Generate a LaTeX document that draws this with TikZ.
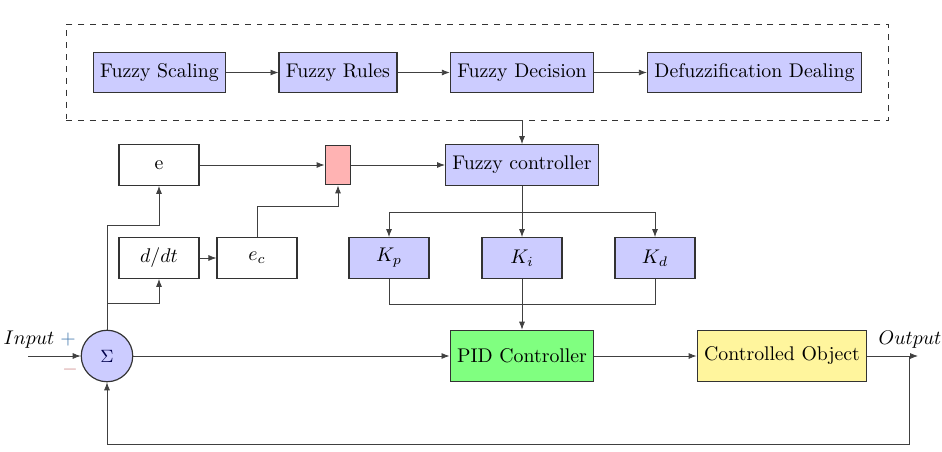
\documentclass[tikz,border=0pt]{standalone}
\usepackage{tikz}
\definecolor{FlouBleu}{HTML}{CCCCFF}
\definecolor{ErreurRose}{HTML}{FFB3B3}
\definecolor{PidVert}{HTML}{80FF80}
\definecolor{ObjetJaune}{HTML}{FFF59D}
\definecolor{PlusBleu}{HTML}{4A7DB0}
\definecolor{MoinsRouge}{HTML}{D09090}
\usetikzlibrary{calc,positioning,fit,arrows.meta}

\begin{document}
\begin{tikzpicture}[x=0.505pt, y=-0.505pt, >={Latex[length=4pt,width=3pt]},
        every node/.style={align=center},
        bloc/.style={draw=black!80, semithick, minimum height=20.5pt, inner xsep=3.5pt},
        blocflou/.style={bloc, fill=FlouBleu},
        petitbloc/.style={bloc, minimum width=40.4pt},
        fil/.style={->, draw=black!75}]
        \useasboundingbox (0,0) rectangle (942,452);

        % Chaine floue dans le cadre pointille
        \node[blocflou] (echelle) at (159.5,72.5) {Fuzzy Scaling};
        \node[blocflou] (regles) at (338,72.5) {Fuzzy Rules};
        \node[blocflou] (decision) at (522,72.5) {Fuzzy Decision};
        \node[blocflou] (defuzz) at (754.5,72.5) {Defuzzification Dealing};
        \node[draw=black!80, dashed, fit=(echelle)(defuzz), inner sep=13.5pt] (cadre) {};
        \draw[fil] (echelle) -- (regles);
        \draw[fil] (regles) -- (decision);
        \draw[fil] (decision) -- (defuzz);

        % Erreur, derivee et controleur flou
        \node[petitbloc] (e) at (159,165) {e};
        \node[petitbloc] (ddt) at (159,258) {$d/dt$};
        \node[petitbloc] (ec) at (257,258) {$e_c$};
        \node[bloc, fill=ErreurRose, minimum width=13pt, minimum height=20pt, inner sep=0pt] (rose) at (338,165) {};
        \node[blocflou] (ctrl) at (522,165) {Fuzzy controller};

        % Gains du PID
        \node[petitbloc, fill=FlouBleu] (kp) at (389,258) {$K_p$};
        \node[petitbloc, fill=FlouBleu] (ki) at (522,258) {$K_i$};
        \node[petitbloc, fill=FlouBleu] (kd) at (655,258) {$K_d$};

        % Boucle principale
        \node[draw=black!80, semithick, circle, fill=FlouBleu, minimum size=26pt, inner sep=0pt, font=\small, text=blue!30!black] (somme) at (107,356) {$\Sigma$};
        \node[bloc, fill=PidVert, minimum height=26pt] (pid) at (522,356) {PID Controller};
        \node[bloc, fill=ObjetJaune, minimum height=26pt] (objet) at (782,356) {Controlled Object};
        \coordinate (entree) at (28,356);
        \coordinate (sortie) at (918,356);
        \coordinate (retour) at (909,356);

        % Etiquettes
        \node (lblentree) at (29,340) {$Input$};
        \node[text=PlusBleu] (plus) at (68,340) {$+$};
        \node[text=MoinsRouge] (moins) at (70,370) {$-$};
        \node (lblsortie) at (910,340) {$Output$};

        % Liaisons
        \draw[fil] (cadre.south) -| (ctrl.north);
        \draw[fil] (somme.north) -- ++(0,-104) -| (e.south);
        \draw[fil] (somme.north) -- ++(0,-26) -| (ddt.south);
        \draw[fil] (e) -- (rose);
        \draw[fil] (ddt) -- (ec);
        \draw[fil] (ec.north) -- ++(0,-31) -| (rose.south);
        \draw[fil] (rose) -- (ctrl);
        \draw[fil] (ctrl) -- (ki);
        \draw[fil] (ctrl.south) -- ++(0,27) -| (kp.north);
        \draw[fil] (ctrl.south) -- ++(0,27) -| (kd.north);
        \draw[fil] (ki) -- (pid);
        \draw[draw=black!75] (kp.south) |- ($(ki.south)!0.5!(pid.north)$);
        \draw[draw=black!75] (kd.south) |- ($(ki.south)!0.5!(pid.north)$);
        \draw[fil] (entree) -- (somme);
        \draw[fil] (somme) -- (pid);
        \draw[fil] (pid) -- (objet);
        \draw[fil] (objet) -- (sortie);
        \draw[fil] (retour) -- ++(0,88) -| (somme.south);
    \end{tikzpicture}
\end{document}
